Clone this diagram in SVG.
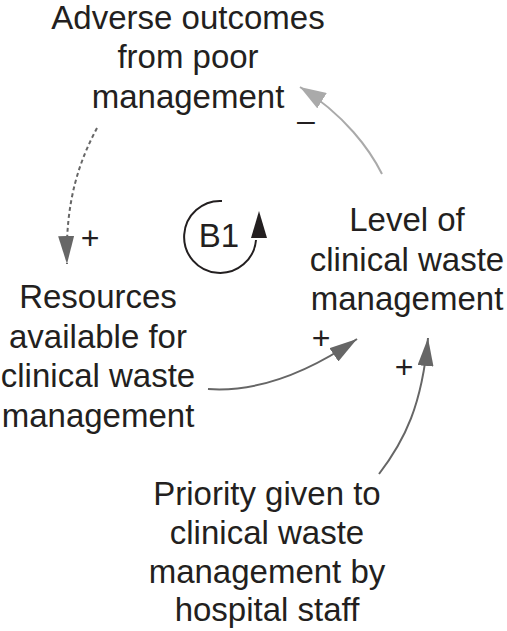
<svg xmlns="http://www.w3.org/2000/svg" width="507" height="631" viewBox="0 0 507 631">
<defs>
<style>
.lbl{font-family:"Liberation Sans",Arial,Helvetica,sans-serif;font-size:33px;fill:#231f20;text-anchor:middle}
.pol{font-family:"Liberation Sans",Arial,Helvetica,sans-serif;font-size:32px;fill:#231f20;text-anchor:middle}
.lnk{fill:none;stroke:#666;stroke-width:2}
</style>
<marker id="ah" viewBox="0 0 28 16" refX="28" refY="8" markerWidth="28" markerHeight="16" markerUnits="userSpaceOnUse" orient="auto"><path d="M0,0 L28,8 L0,16 z" fill="#666"/></marker>
<marker id="ahl" viewBox="0 0 26 18" refX="26" refY="9" markerWidth="26" markerHeight="18" markerUnits="userSpaceOnUse" orient="auto"><path d="M0,0 L26,9 L0,18 z" fill="#aaa"/></marker>
</defs>
<g id="connectors">
<path id="c1" class="lnk" d="M97,128 C80,160 65,200 67,264" stroke-dasharray="4,3" marker-end="url(#ah)"/>
<path id="c2" d="M382,174 C370,150 345,115 300,87" fill="none" stroke="#aaa" stroke-width="2" marker-end="url(#ahl)"/>
<path id="c3" class="lnk" d="M208,389 C250,392 300,378 357,339" marker-end="url(#ah)"/>
<path id="c4" class="lnk" d="M379,474 C405,440 422,405 428,338" marker-end="url(#ah)"/>
<text class="pol" x="90" y="249">+</text>
<text class="pol" x="306" y="131">–</text>
<text class="pol" x="321" y="349">+</text>
<text class="pol" x="404" y="378">+</text>
</g>
<g id="loop-B1">
<path d="M222,201 A36,36 0 1 0 256,240" fill="none" stroke="#231f20" stroke-width="2"/>
<polygon points="259,211 251,238 267,238" fill="#231f20"/>
<text class="lbl" x="219" y="247">B1</text>
</g>
<g id="node-adverse">
<text class="lbl" x="188" y="29">Adverse outcomes</text>
<text class="lbl" x="188" y="68">from poor</text>
<text class="lbl" x="188" y="108">management</text>
</g>
<g id="node-level">
<text class="lbl" x="407" y="231">Level of</text>
<text class="lbl" x="407" y="271">clinical waste</text>
<text class="lbl" x="407" y="310">management</text>
</g>
<g id="node-resources">
<text class="lbl" x="98" y="308">Resources</text>
<text class="lbl" x="98" y="348">available for</text>
<text class="lbl" x="98" y="387">clinical waste</text>
<text class="lbl" x="98" y="427">management</text>
</g>
<g id="node-priority">
<text class="lbl" x="267" y="505">Priority given to</text>
<text class="lbl" x="267" y="544">clinical waste</text>
<text class="lbl" x="267" y="583">management by</text>
<text class="lbl" x="267" y="621">hospital staff</text>
</g>
</svg>
